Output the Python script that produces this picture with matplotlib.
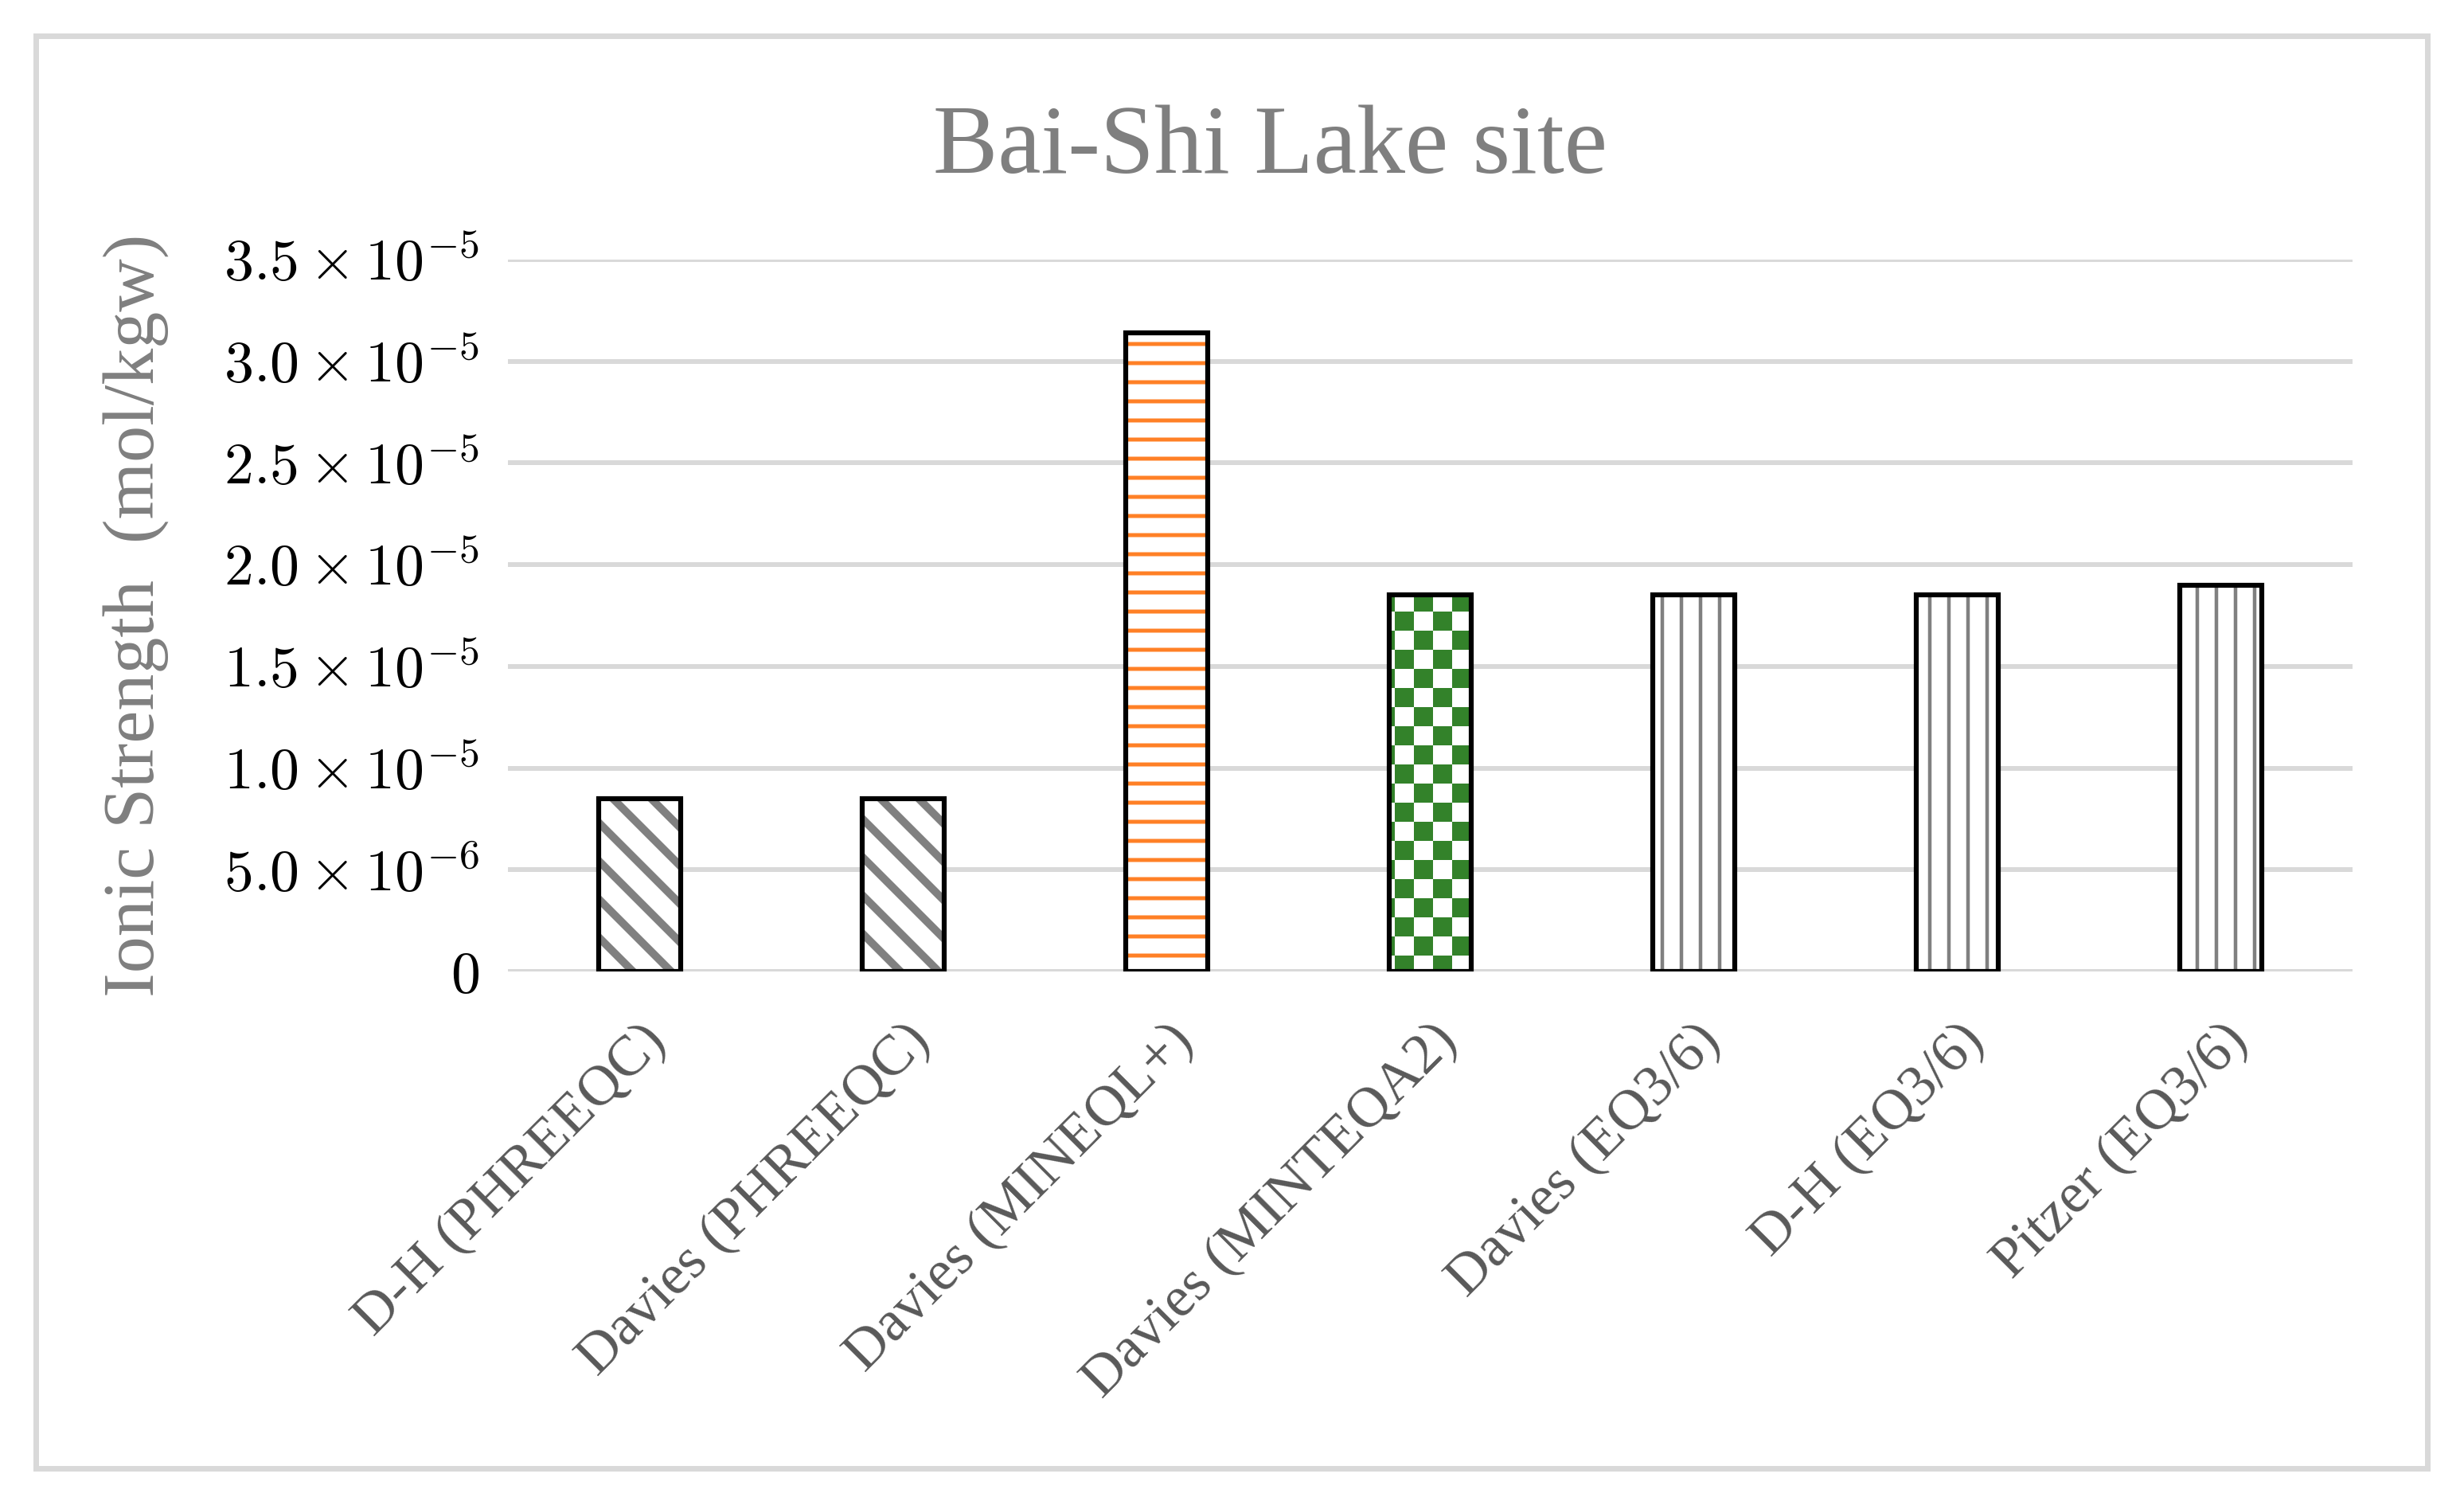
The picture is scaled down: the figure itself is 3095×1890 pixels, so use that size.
import matplotlib
matplotlib.use("Agg")
import matplotlib.pyplot as plt
import matplotlib.hatch as mhatch
from matplotlib.path import Path
from matplotlib.patches import Rectangle
from matplotlib.ticker import FuncFormatter, MultipleLocator
import numpy as np

# data
methods = ["D-H (PHREEQC)", "Davies (PHREEQC)", "Davies (MINEQL+)",
           "Davies (MINTEQA2)", "Davies (EQ3/6)", "D-H (EQ3/6)", "Pitzer (EQ3/6)"]
ionic_strength = [8.5e-6, 8.5e-6, 3.14e-5, 1.85e-5, 1.85e-5, 1.85e-5, 1.9e-5]
patterns = ["\\", "\\", "-", "+", "|", "|", "|"]
pattern_colors = ["#808080", "#808080", "#FF8026", "#33822A", "#808080", "#808080", "#808080"]

DPI = 144
TILE = 144.0  # hatch tile is one inch = DPI pixels


def hatch_tiles():
    # filled shapes on a unit tile, sizes given in pixels
    t_h = 5 / TILE
    t_v = 4.5 / TILE
    w_d = 14 / TILE
    tiles = {}
    tiles["-"] = [[(0, k / 6 - t_h / 2), (1, k / 6 - t_h / 2), (1, k / 6 + t_h / 2), (0, k / 6 + t_h / 2)]
                  for k in range(7)]
    tiles["|"] = [[(k / 6 - t_v / 2, 0), (k / 6 + t_v / 2, 0), (k / 6 + t_v / 2, 1), (k / 6 - t_v / 2, 1)]
                  for k in range(7)]
    tiles["+"] = [[(i / 6, j / 6), ((i + 1) / 6, j / 6), ((i + 1) / 6, (j + 1) / 6), (i / 6, (j + 1) / 6)]
                  for i in range(6) for j in range(6) if (i + j) % 2 == 0]
    tiles["\\"] = [[(c, 1), (c + w_d, 1), (c + w_d + 1, 0), (c + 1, 0)]
                   for c in np.arange(-4, 4) / 3]
    return tiles


class TileHatch(mhatch.HatchPatternBase):
    def __init__(self, hatch, density):
        self.polys = hatch_tiles().get(hatch, [])
        self.num_vertices = 5 * len(self.polys)

    def set_vertices_and_codes(self, vertices, codes):
        for i, poly in enumerate(self.polys):
            vertices[5 * i:5 * i + 4] = poly
            vertices[5 * i + 4] = poly[0]
            codes[5 * i] = Path.MOVETO
            codes[5 * i + 1:5 * i + 4] = Path.LINETO
            codes[5 * i + 4] = Path.CLOSEPOLY


mhatch._hatch_types[:] = [TileHatch]

plt.rcParams["hatch.linewidth"] = 0.0
plt.rcParams["font.family"] = ["Liberation Serif", "DejaVu Serif"]
plt.rcParams["mathtext.fontset"] = "cm"

fig = plt.figure(figsize=(3095 / DPI, 1890 / DPI), dpi=DPI)
ax = fig.add_axes([638 / 3095, 1 - 1220 / 1890, (2955 - 638) / 3095, (1220 - 326) / 1890])

x = np.arange(len(methods))
ax.bar(x, ionic_strength, width=0.313, color="white", edgecolor=pattern_colors,
       hatch=patterns, linewidth=0, zorder=2)
ax.bar(x, ionic_strength, width=0.313, fill=False, edgecolor="black",
       linewidth=3.1, zorder=3)

ax.set_xlim(-0.5, len(methods) - 0.5)
ax.set_ylim(0, 3.5e-5)
ax.yaxis.set_major_locator(MultipleLocator(5e-6))


def sci_label(v, pos):
    if abs(v) < 1e-12:
        return "$0$"
    if v < 0:
        return ""
    exp = int(np.floor(np.log10(v) + 1e-9))
    return r"$%.1f\times10^{%d}$" % (v / 10 ** exp, exp)


ax.yaxis.set_major_formatter(FuncFormatter(sci_label))
ax.tick_params(axis="y", length=0, pad=18, labelsize=37, labelcolor="black")
ax.set_xticks(x, methods, rotation=45, ha="right", va="top", rotation_mode="anchor",
              fontsize=36, color="#595959")
ax.tick_params(axis="x", length=0, pad=27)

ax.grid(axis="y", color="#d9d9d9", linewidth=3.0)
ax.set_axisbelow(True)
for s in ax.spines.values():
    s.set_visible(False)

ax.set_ylabel("Ionic Strength  (mol/kgw)", fontsize=46, color="#7f7f7f")
ax.yaxis.set_label_coords(-0.184, 0.5)

fig.text(0.5155, 1 - 217 / 1890, "Bai-Shi Lake site", ha="center", va="baseline",
         fontsize=61, color="#7f7f7f")

fig.add_artist(Rectangle((44.5 / 3095, 1 - 1843.5 / 1890), (3048.5 - 44.5) / 3095,
                         (1843.5 - 44.5) / 1890, transform=fig.transFigure,
                         fill=False, edgecolor="#d9d9d9", linewidth=3.5))

fig.savefig("out.png", dpi=DPI)
